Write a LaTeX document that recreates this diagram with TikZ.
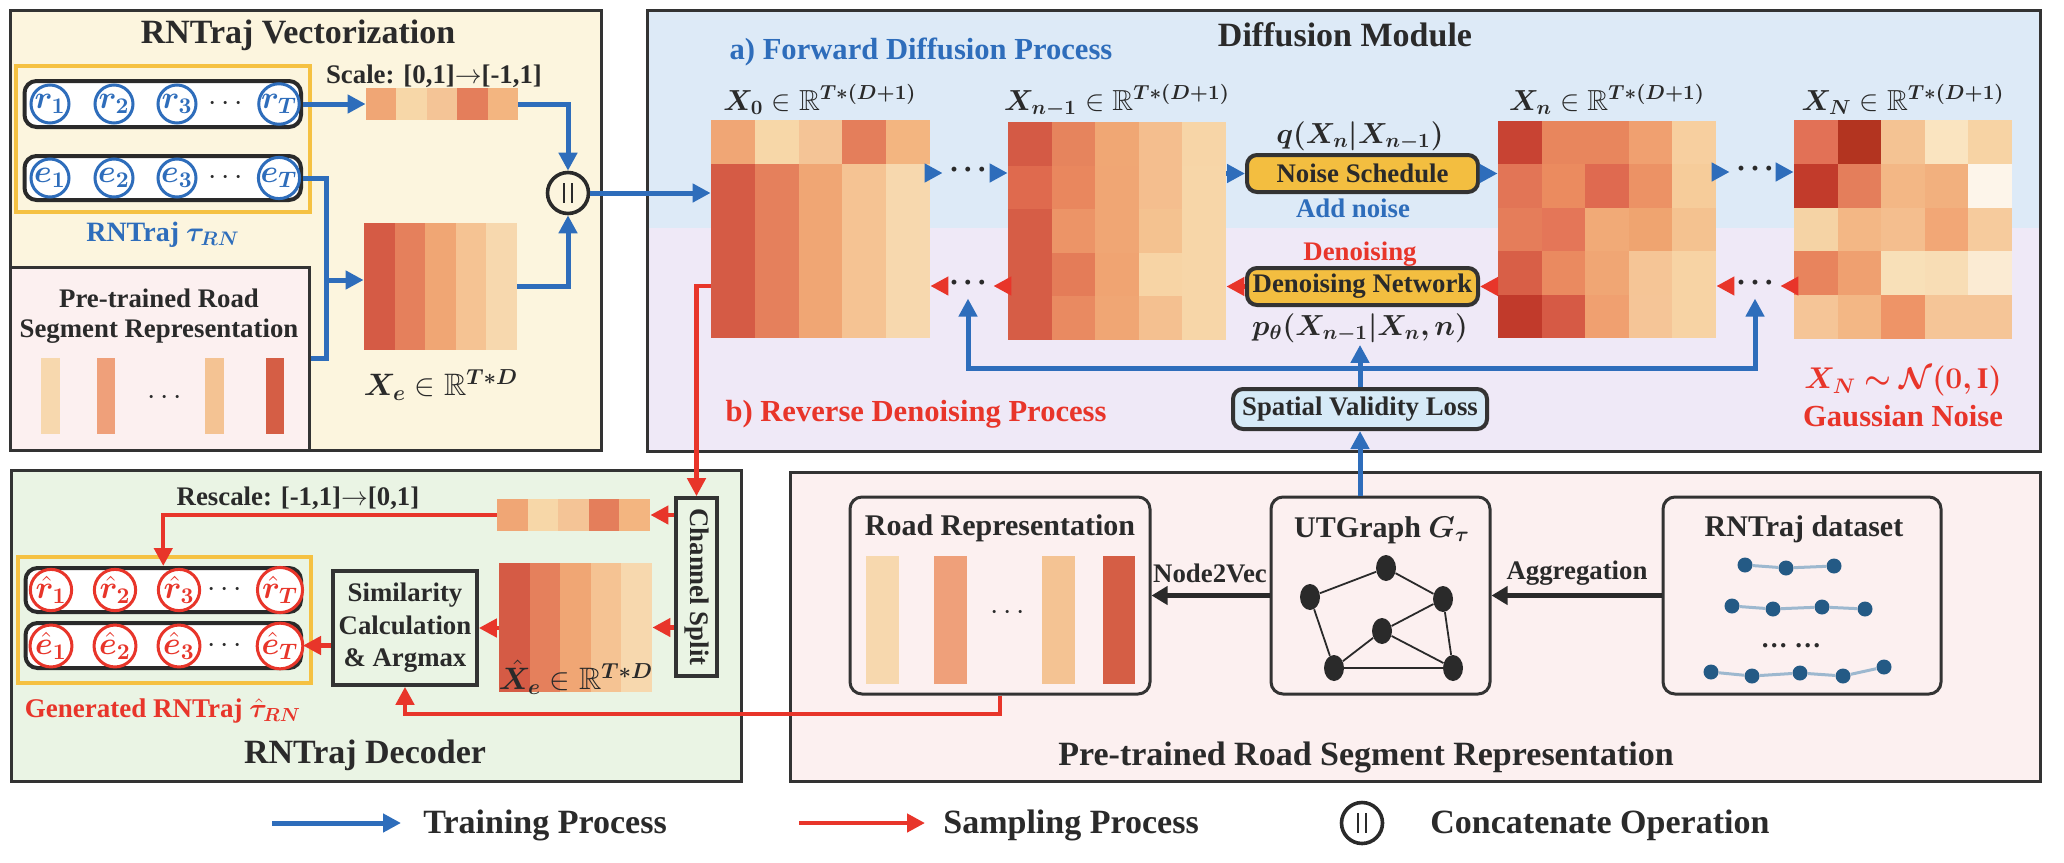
\RequirePackage{fix-cm}
\documentclass[tikz,border=0pt]{standalone}
\usepackage{amsmath,amssymb}
\usepackage{fontspec}
\setmainfont{Liberation Serif}
\usepackage{bm}
\usetikzlibrary{arrows.meta,fit,shapes.geometric}

\definecolor{bd}{HTML}{333333}
\definecolor{txt}{HTML}{2A2A2A}
\definecolor{tblue}{HTML}{2E6DBB}
\definecolor{tred}{HTML}{E8352A}
\definecolor{gold}{HTML}{F5C142}
\definecolor{bgcream}{HTML}{FCF5DE}
\definecolor{bgpink}{HTML}{FCF0F0}
\definecolor{bgblue}{HTML}{DDEAF7}
\definecolor{bglav}{HTML}{EFE9F7}
\definecolor{bggreen}{HTML}{EAF4E4}
\definecolor{nsfill}{HTML}{F3BE40}
\definecolor{svfill}{HTML}{D6EAF7}
\definecolor{dnode}{HTML}{245A85}
\definecolor{dedge}{HTML}{9DB8CF}
\definecolor{cA}{HTML}{F7D8AE}
\definecolor{cB}{HTML}{EFA07A}
\definecolor{cC}{HTML}{F4C393}
\definecolor{cD}{HTML}{D55E45}

\newcommand\fsT{\fontsize{17}{20}\selectfont}
\newcommand\fsS{\fontsize{15.3}{18}\selectfont}
\newcommand\fsB{\fontsize{13.4}{15}\selectfont}
\newcommand\fsR{\fontsize{15}{18}\selectfont}
\newcommand\fsM{\fontsize{14.5}{17}\selectfont}
\newcommand\mdots{\textbf{·\kern2pt·\kern2pt·}}

\newcommand\heat[7]{%
  \node[inner sep=0pt, fit={(#2,#3) (#4,#5)}] (#1) {};
  \foreach \cc [count=\kk from 0] in {#7} {%
    \pgfmathtruncatemacro\hrow{\kk/5}%
    \pgfmathtruncatemacro\hcol{\kk-5*\hrow}%
    \definecolor{cellc}{HTML}{\cc}%
    \fill[cellc] ({#2+(#4-#2)/5*\hcol},{#3+(#5-#3)/#6*\hrow}) rectangle ({#2+(#4-#2)/5*(\hcol+1)},{#3+(#5-#3)/#6*(\hrow+1)});
  }%
}

\begin{document}
\begin{tikzpicture}[x=0.5pt,y=-0.5pt,
  panel/.style={draw=bd, line width=1.5pt, inner sep=0pt},
  rowbox/.style={draw=txt, line width=2pt, fill=white, rounded corners=6pt, inner sep=0pt},
  rbox/.style={draw=bd, line width=1.5pt, rounded corners=6pt, inner sep=0pt},
  rc/.style={circle, draw=tblue, line width=1.5pt, fill=white, minimum size=19pt, inner sep=0pt, text=tblue, font=\fontsize{16}{16}\selectfont},
  hcirc/.style={rc, draw=tred, text=tred},
  bline/.style={draw=tblue, line width=2.5pt},
  barr/.style={bline, -{Triangle[length=9pt,width=9pt]}},
  rline/.style={draw=tred, line width=2.2pt},
  rarr/.style={rline, -{Triangle[length=9pt,width=9pt]}},
  darr/.style={draw=txt, line width=2.8pt, -{Triangle[length=8pt,width=9pt]}},
  ttl/.style={font=\fsT\bfseries, text=txt, inner sep=1pt},
  subt/.style={font=\fsS\bfseries, inner sep=1pt},
  lbl/.style={font=\fsB\bfseries, text=txt, inner sep=1pt},
  mlab/.style={font=\fsM, text=txt, inner sep=1pt},
  dotn/.style={font=\fontsize{15}{15}\selectfont, text=txt, inner sep=3pt},
  catc/.style={circle, draw=txt, line width=1.8pt, minimum size=20.5pt, inner sep=0pt},
  gnode/.style={ellipse, fill=txt, minimum width=10pt, minimum height=13pt, inner sep=0pt},
  dsn/.style={circle, fill=dnode, minimum size=7.5pt, inner sep=0pt},
]
\useasboundingbox (0,0) rectangle (2064,862);

%% ================= RNTraj Vectorization
\node[panel, fill=bgcream, fit={(10,10) (601,450)}] (vec) {};
\node[ttl] (vect) at (298,35) {RNTraj Vectorization};
\node[draw=gold, line width=2pt, inner sep=0pt, fit={(15.5,66) (310,212)}] (rnbox) {};
\node[rowbox, fit={(24.5,81) (301,127)}] (rowr) {};
\node[rowbox, fit={(24.5,156) (301,200)}] (rowe) {};
\foreach \nm/\xx/\ix in {r1/50/1,r2/114/2,r3/177/3,rT/279/T}
  \node[rc] (\nm) at (\xx,104) {$\bm{r}_{\bm{\ix}}$};
\foreach \nm/\xx/\ix in {e1/50/1,e2/114/2,e3/177/3,eT/279/T}
  \node[rc] (\nm) at (\xx,178) {$\bm{e}_{\bm{\ix}}$};
\node[dotn] (rdots) at (228,104) {$\cdots$};
\node[dotn] (edots) at (228,178) {$\cdots$};
\node[subt, text=tblue, font=\fontsize{14}{17}\selectfont\bfseries] (rnl) at (163,235) {RNTraj $\bm{\tau}_{\bm{RN}}$};

\node[panel, fill=bgpink, fit={(10,267) (309,450)}] (pre) {};
\node[lbl, align=center] (pret) at (159,316) {Pre-trained Road\\Segment Representation};
\fill[cA] (41,358) rectangle (60,434);
\fill[cB] (97,358) rectangle (115,434);
\fill[cC] (205,358) rectangle (224,434);
\fill[cD] (266,358) rectangle (284,434);
\node[dotn] (pdots) at (167,398) {$\cdots$};

\heat{sstrip}{366}{88}{518}{120}{1}{F0A675,F7D7A8,F4C496,E47E5B,F3B580}
\node[lbl] (scl) at (434,76) {Scale: [0,1]$\rightarrow$[-1,1]};
\heat{xe}{364}{223}{517}{350}{1}{D55B45,E5805C,F0A674,F5C393,F7D8AE}
\node[mlab, font=\fontsize{15.5}{18}\selectfont] (xel) at (441,385) {$\bm{X}_{\bm e}\in\mathbb{R}^{\bm{T\ast D}}$};

\node[catc] (cat) at (568,193) {};
\draw[txt, line width=1.2pt] (564,183) -- (564,203) (572,183) -- (572,203);

\draw[barr] (rowr.east) -- (sstrip.west);
\draw[barr] (sstrip.east) -| (cat.north);
\draw[barr] (xe.east) -| (cat.south);
\coordinate (j1) at (326,280);
\coordinate (j2) at (326,358);
\draw[bline] (rowe.east) -| (j1);
\draw[bline] (pre.east |- j2) -- (j2) -- (j1);
\draw[barr] (j1) -- (j1 -| xe.west);

%% ================= Diffusion Module
\fill[bgblue] (647,10) rectangle (2040,228);
\fill[bglav] (647,228) rectangle (2040,451);
\node[panel, fit={(647,10) (2040,451)}] (dm) {};
\node[ttl] (dmt) at (1345,35) {Diffusion Module};
\node[subt, text=tblue] (fwd) at (921,52) {a) Forward Diffusion Process};
\node[subt, text=tred] (rev) at (916,414) {b) Reverse Denoising Process};

\heat{X0}{711}{120}{930}{338}{5}{F0A675,F7D7A8,F4C496,E47E5B,F3B580,D55B45,E5805C,F0A674,F5C393,F7D8AE,D55B45,E5805C,F0A674,F5C393,F7D8AE,D55B45,E5805C,F0A674,F5C393,F7D8AE,D55B45,E5805C,F0A674,F5C393,F7D8AE}
\heat{Xn1}{1008}{122}{1226}{340}{5}{D45A45,E6845D,F0A774,F4BE8E,F7D5A7,DF6A4E,E9875E,F0A674,F4BE8E,F7D6A8,D65D46,EC9467,F0A674,F4C290,F7D6A8,D65D46,E47C58,F0A472,F7D4A5,F7D6A8,D65D46,E98A61,F0A674,F4C090,F7D6A8}
\heat{Xn}{1498}{121}{1716}{338}{5}{C84333,E8865D,E8865D,F0A070,F7CF9F,E27556,EB8B5F,DF6A50,EC9265,F6CC9A,E57D5A,E47658,F1AA77,EFA470,F4C290,D85F47,EA8A60,F0A674,F5C596,F7D3A4,C13A2B,D65A45,F0A070,F5C597,F7D3A4}
\heat{XN}{1794}{120}{2012}{339}{5}{E27156,B33420,F4C393,FAE4C0,F7D3A4,C23B2B,E47E5B,F3B785,F2B07E,FDF5EA,F5D3A5,F3B785,F4BE8E,F2A776,F6CB9D,E8845D,EFA070,F8E0B8,F8DDB5,FBEBD3,F5C597,F3B785,EE9467,F5C597,F5C597}

\node[mlab, anchor=base] (x0l) at (820,110) {$\bm{X}_{\bm 0}\in\mathbb{R}^{\bm{T\ast(D+1)}}$};
\node[mlab, anchor=base] (xn1l) at (1117,110) {$\bm{X}_{\bm{n-1}}\in\mathbb{R}^{\bm{T\ast(D+1)}}$};
\node[mlab, anchor=base] (xnl) at (1607,110) {$\bm{X}_{\bm n}\in\mathbb{R}^{\bm{T\ast(D+1)}}$};
\node[mlab, anchor=base] (xNl) at (1903,110) {$\bm{X}_{\bm N}\in\mathbb{R}^{\bm{T\ast(D+1)}}$};

\node[rbox, fill=nsfill, line width=2pt, rounded corners=5pt, minimum width=115.5pt, minimum height=18.5pt, font=\fsB\bfseries, text=txt] (ns) at (1362.5,173.5) {Noise Schedule};
\node[mlab] (ql) at (1360,136) {$\bm{q(X_n|X_{n-1})}$};
\node[lbl, text=tblue] (addn) at (1353,208) {Add noise};
\node[rbox, fill=nsfill, line width=2pt, rounded corners=5pt, minimum width=115.5pt, minimum height=18.5pt, font=\fsB\bfseries, text=txt] (dn) at (1362.5,286.5) {Denoising Network};
\node[lbl, text=tred] (dnl) at (1360,254) {Denoising};
\node[mlab] (pl) at (1360,328) {$\bm{p_\theta(X_{n-1}|X_n,n)}$};
\node[rbox, fill=svfill, line width=2pt, rounded corners=5pt, minimum width=127pt, minimum height=20pt, font=\fsB\bfseries, text=txt] (svl) at (1360,409) {Spatial Validity Loss};

\node[subt, text=tred, font=\fsR] (xnd) at (1903,381) {$\bm{X_N\sim\mathcal{N}(0,\mathrm{I})}$};
\node[subt, text=tred] (gn) at (1903,416) {Gaussian Noise};

\node[dotn] (d1) at (968,173) {\mdots};
\node[dotn] (d2) at (968,286) {\mdots};
\node[dotn] (d3) at (1755,172) {\mdots};
\node[dotn] (d4) at (1755,286) {\mdots};

\draw[barr] (X0.east |- d1) -- (d1.west);
\draw[barr] (d1.east) -- (d1.east -| Xn1.west);
\draw[barr] (Xn1.east |- ns) -- (ns.west);
\draw[barr] (ns.east) -- (ns.east -| Xn.west);
\draw[barr] (Xn.east |- d3) -- (d3.west);
\draw[barr] (d3.east) -- (d3.east -| XN.west);
\draw[rarr] (XN.west |- d4) -- (d4.east);
\draw[rarr] (d4.west) -- (d4.west -| Xn.east);
\draw[rarr] (Xn.west |- dn) -- (dn.east);
\draw[rarr] (dn.west) -- (dn.west -| Xn1.east);
\draw[rarr] (Xn1.west |- d2) -- (d2.east);
\draw[rarr] (d2.west) -- (d2.west -| X0.east);

\coordinate (lp) at (1360,368);
\draw[barr] (svl.north) -- (pl.south);
\draw[barr] (lp) -| (d2.south);
\draw[barr] (lp) -| (d4.south);
\draw[barr] (cat.east) -- (cat.east -| X0.west);

%% ================= RNTraj Decoder
\node[panel, fill=bggreen, fit={(11,470) (741,781)}] (dec) {};
\node[ttl] (dect) at (365,755) {RNTraj Decoder};
\node[panel, line width=1.8pt, minimum width=20.5pt, minimum height=89pt] (cs) at (696.5,587) {};
\node[rotate=-90, font=\fsB\bfseries, text=txt] (cst) at (cs.center) {Channel Split};
\draw[rarr] (X0.west |- d2) -| (cs.north);
\heat{rstrip}{497}{499}{650}{531}{1}{F0A675,F7D7A8,F4C496,E47E5B,F3B580}
\node[lbl] (rscl) at (298,498) {Rescale: [-1,1]$\rightarrow$[0,1]};
\heat{xhe}{499}{563}{652}{692}{1}{D55B45,E5805C,F0A674,F5C393,F7D8AE}
\node[mlab, font=\fontsize{15.5}{18}\selectfont] (xhel) at (576,677) {$\hat{\bm{X}}_{\bm e}\in\mathbb{R}^{\bm{T\ast D}}$};
\node[panel, line width=1.8pt, minimum width=72pt, minimum height=57pt, align=center, font=\fontsize{13.4}{16.25}\selectfont\bfseries, text=txt] (sim) at (405,628) {Similarity\\Calculation\\\& Argmax};
\node[draw=gold, line width=2pt, inner sep=0pt, fit={(18,557) (311,683)}] (gbox) {};
\node[rowbox, fit={(25.5,568) (301,612)}] (rowrh) {};
\node[rowbox, fit={(25.5,623) (301,668)}] (rowehat) {};
\foreach \nm/\xx/\ix in {hr1/51/1,hr2/115/2,hr3/179/3,hrT/280/T}
  \node[hcirc] (\nm) at (\xx,590) {$\hat{\bm{r}}_{\bm{\ix}}$};
\foreach \nm/\xx/\ix in {he1/51/1,he2/115/2,he3/179/3,heT/280/T}
  \node[hcirc] (\nm) at (\xx,646) {$\hat{\bm{e}}_{\bm{\ix}}$};
\node[dotn] (hrdots) at (227,590) {$\cdots$};
\node[dotn] (hedots) at (227,646) {$\cdots$};
\node[subt, text=tred, font=\fontsize{13.5}{16}\selectfont\bfseries] (genl) at (163,711) {Generated RNTraj $\hat{\bm{\tau}}_{\bm{RN}}$};

\draw[rarr] (cs.west |- rstrip) -- (rstrip.east);
\draw[rarr] (rstrip.west) -| (rowrh.north);
\draw[rarr] (cs.west |- xhe) -- (xhe.east);
\draw[rarr] (xhe.west |- sim) -- (sim.east);
\draw[rarr] (sim.west |- rowehat) -- (rowehat.east);

%% ================= Pre-trained Road Segment Representation
\node[panel, fill=bgpink, fit={(790,472) (2040,781)}] (prs) {};
\node[ttl] (prst) at (1366,757) {Pre-trained Road Segment Representation};
\node[rbox, fit={(850,497) (1150,694)}] (rr) {};
\node[lbl, font=\fsR\bfseries] (rrt) at (1000,528) {Road Representation};
\fill[cA] (866,556) rectangle (899,684);
\fill[cB] (934,556) rectangle (967,684);
\fill[cC] (1042,556) rectangle (1075,684);
\fill[cD] (1103,556) rectangle (1135,684);
\node[dotn] (rrdots) at (1010,613) {$\cdots$};
\node[rbox, fit={(1271,497) (1490,694)}] (ut) {};
\node[lbl, font=\fsR\bfseries] (utt) at (1382,530) {UTGraph $\bm{G_\tau}$};
\node[rbox, fit={(1663,497) (1941,694)}] (ds) {};
\node[lbl, font=\fsR\bfseries] (dst) at (1804,529) {RNTraj dataset};

\draw[darr] (ut.west) -- (ut.west -| rr.east);
\node[lbl] (n2v) at (1210,573) {Node2Vec};
\draw[darr] (ds.west) -- (ds.west -| ut.east);
\node[lbl] (agg) at (1577,573) {Aggregation};

\foreach \nm/\xx/\yy in {g1/1386/568,g2/1310/597,g3/1443/599,g4/1382/631,g5/1334/668,g6/1453/668}
  \node[gnode] (\nm) at (\xx,\yy) {};
\foreach \a/\b in {g1/g2,g1/g3,g2/g5,g3/g4,g3/g6,g4/g5,g4/g6,g5/g6}
  \draw[txt, line width=0.9pt] (\a) -- (\b);

\foreach \nm/\xx/\yy in {a1/1745/565,a2/1786/568,a3/1834/566,b1/1732/606,b2/1773/609,b3/1822/607,b4/1865/609,c1/1711/672,c2/1752/676,c3/1800/673,c4/1843/676,c5/1884/667}
  \node[dsn] (\nm) at (\xx,\yy) {};
\foreach \a/\b in {a1/a2,a2/a3,b1/b2,b2/b3,b3/b4,c1/c2,c2/c3,c3/c4,c4/c5}
  \draw[dedge, line width=1.5pt] (\a) -- (\b);
\node[dotn, font=\fsB\bfseries] (dsd) at (1791,646) {\ldots\ \ldots};

\coordinate (rj) at (1000,714);
\draw[rarr] (rr.south) -- (rj) -| (sim.south);
\draw[barr] (svl.south |- ut.north) -- (svl.south);

%% ================= Legend
\coordinate (lb1) at (272,823);
\coordinate (lb2) at (401,823);
\draw[barr] (lb1) -- (lb2);
\node[ttl, anchor=west] (lgt) at (421,825) {Training Process};
\coordinate (lr1) at (799,823);
\coordinate (lr2) at (925,823);
\draw[rarr] (lr1) -- (lr2);
\node[ttl, anchor=west] (lgs) at (941,825) {Sampling Process};
\node[catc] (lgc) at (1362,823) {};
\draw[txt, line width=1.2pt] (1358,813) -- (1358,833) (1366,813) -- (1366,833);
\node[ttl, anchor=west] (lgo) at (1428,825) {Concatenate Operation};
\end{tikzpicture}
\end{document}
